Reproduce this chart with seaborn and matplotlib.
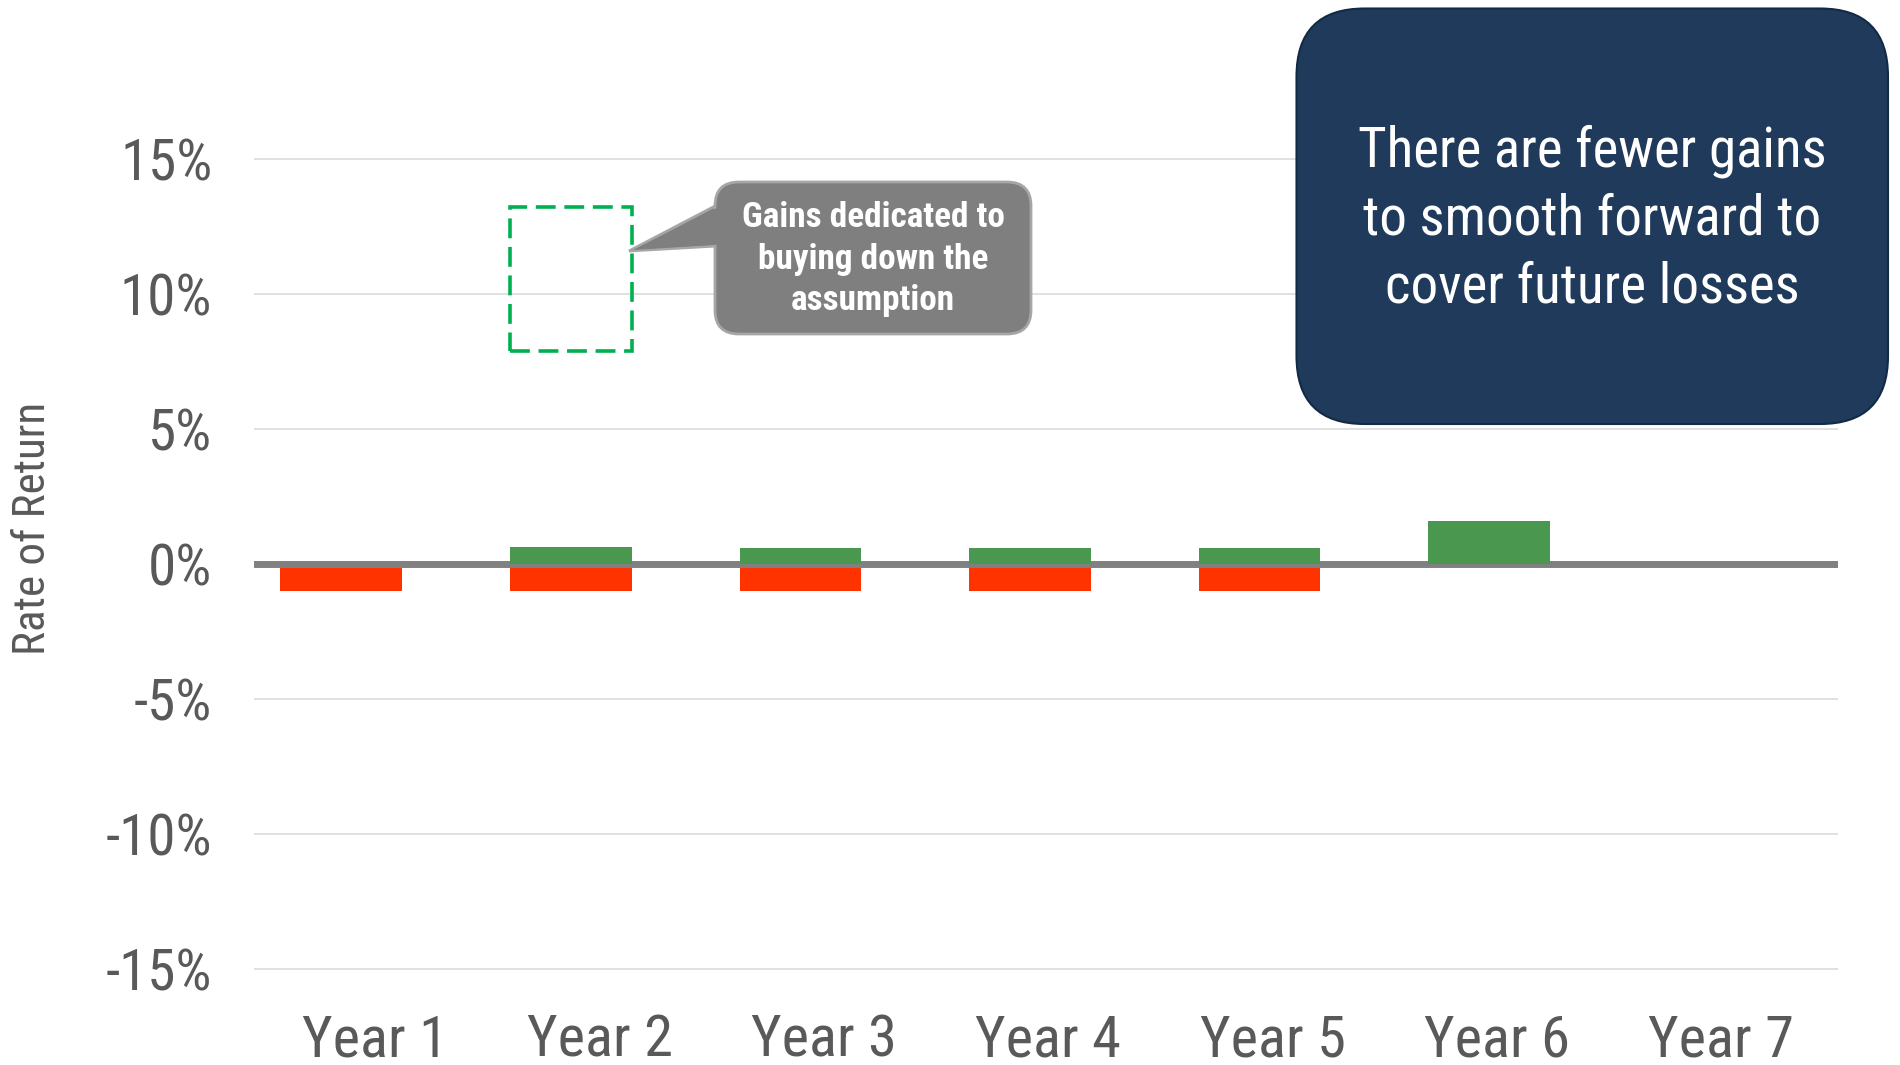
import os
import matplotlib
matplotlib.use("Agg")
import matplotlib.pyplot as plt
from matplotlib import font_manager
from matplotlib.font_manager import FontProperties
from matplotlib.patches import FancyBboxPatch, Polygon
from matplotlib.ticker import FuncFormatter
from matplotlib.transforms import ScaledTranslation
import pandas as pd
import seaborn as sns

# ---- data (percent) ----
years = ["Year 1", "Year 2", "Year 3", "Year 4", "Year 5", "Year 6", "Year 7"]
gains = [0.0, 0.63, 0.6, 0.6, 0.6, 1.6, 0.0]
losses = [-1.0, -1.0, -1.0, -1.0, -1.0, 0.0, 0.0]
buydown_year = "Year 2"
buydown_low = 7.9
buydown_high = 13.2
y_ticks = [-15, -10, -5, 0, 5, 10, 15]

callout_text = "Gains dedicated to\nbuying down the\nassumption"
box_text = "There are fewer gains\nto smooth forward to\ncover future losses"

GREEN = "#4A9850"
RED = "#FF3300"
DASH_GREEN = "#00B050"
TEXT_GRAY = "#595959"

sns.set_theme(style="white")
plt.rcParams["font.family"] = ["Liberation Sans", "DejaVu Sans"]


def _weight(e):
    w = e.weight
    if isinstance(w, str):
        w = font_manager.weight_dict.get(w, 400)
    return int(w)


def narrow_font(bold=False):
    """Pick a condensed sans face if one is installed, else None."""
    prefer = ["liberation sans narrow", "arial narrow", "nimbus sans narrow",
              "roboto condensed", "noto sans condensed", "open sans condensed",
              "dejavu sans condensed", "dejavu sans"]
    target = 700 if bold else 400
    best = None
    for e in font_manager.fontManager.ttflist:
        name = e.name.lower()
        fn = os.path.basename(e.fname).lower()
        is_narrow = ("narrow" in name or "condensed" in name or "narrow" in fn
                     or "condensed" in fn or e.stretch in ("condensed", "semi-condensed"))
        if not is_narrow or e.style != "normal":
            continue
        if any(k in name or k in fn for k in ("mono", "serif", "cjk", "display")):
            continue
        full = name + " " + fn
        rank = next((i for i, p in enumerate(prefer) if p in full or p == name), len(prefer))
        penalty = sum(k in fn for k in ("extra", "ultra", "semi"))
        key = (rank, penalty, abs(_weight(e) - target))
        if best is None or key < best[0]:
            best = (key, e.fname)
    return best[1] if best else None


reg_path = narrow_font(False)
bold_path = narrow_font(True)


def fp(size, bold=False):
    path = bold_path if bold else reg_path
    if path:
        return FontProperties(fname=path, size=size)
    # plain face squeezed in size to keep line widths similar
    return FontProperties(family="Liberation Sans", size=size * 0.84,
                          weight="bold" if bold else "normal")


df = pd.DataFrame({"year": years, "gain": gains, "loss": losses})

fig = plt.figure(figsize=(19, 10.65), dpi=100)
ax = fig.add_axes([0.1337, 0.0771, 0.8337, 0.7866])

sns.barplot(data=df, x="year", y="loss", color=RED, saturation=1, width=0.53,
            linewidth=0, zorder=2, ax=ax)
sns.barplot(data=df, x="year", y="gain", color=GREEN, saturation=1, width=0.53,
            linewidth=0, zorder=4, ax=ax)

# dashed outline marking the gains used to buy down the assumption
ax.bar([years.index(buydown_year)], [buydown_high - buydown_low], bottom=[buydown_low],
       width=0.53, fill=False, edgecolor=DASH_GREEN, linewidth=2.6,
       linestyle=(0, (5.5, 2.4)), zorder=5)

ax.axhline(0, color="#808080", linewidth=5, zorder=3)

ax.set_xlim(-0.38, 6.52)
ax.set_ylim(-15.5, 15.5)
ax.set_yticks(y_ticks)
ax.yaxis.set_major_formatter(FuncFormatter(lambda v, _: f"{v:.0f}%"))
ax.grid(axis="y", color="#D9D9D9", linewidth=1.1, zorder=0)
ax.grid(axis="x", visible=False)
ax.set_axisbelow(True)
for s in ax.spines.values():
    s.set_visible(False)

ax.tick_params(axis="y", length=0, pad=30, labelcolor=TEXT_GRAY)
ax.tick_params(axis="x", length=0, pad=22, labelcolor=TEXT_GRAY)
for lab in ax.get_yticklabels():
    lab.set_fontproperties(fp(41))
# category labels sit slightly right of the bars, spreading a little tighter
for i, lab in enumerate(ax.get_xticklabels()):
    dx = (34 - 5.2 * i) / 100
    lab.set_fontproperties(fp(42))
    lab.set_transform(lab.get_transform() + ScaledTranslation(dx, 0, fig.dpi_scale_trans))

ax.set_xlabel("")
ax.set_ylabel("Rate of Return", color=TEXT_GRAY, va="center", fontproperties=fp(32.5))
ax.yaxis.set_label_coords(-0.1395, 0.543)

# ---- overlay for callouts, in pixel units ----
ov = fig.add_axes([0, 0, 1, 1], zorder=10)
ov.set_xlim(0, 1900)
ov.set_ylim(1065, 0)
ov.axis("off")
ov.patch.set_alpha(0)

# speech-bubble callout
ov.add_patch(Polygon([(717, 205), (629, 251), (717, 246)], closed=True,
                     fc="#7F7F7F", ec="#A6A6A6", lw=2, zorder=1))
ov.add_patch(FancyBboxPatch((715, 182), 316, 152,
                            boxstyle="round,pad=0,rounding_size=24",
                            fc="#7F7F7F", ec="#A6A6A6", lw=2, zorder=2))
ov.add_patch(Polygon([(720, 206.5), (633, 250), (720, 244.5)], closed=True,
                     fc="#7F7F7F", ec="none", zorder=3))
ov.text(873, 259, callout_text, ha="center", va="center", color="white",
        fontproperties=fp(25.4, bold=True), linespacing=1.31, zorder=4)

# navy message box
ov.add_patch(FancyBboxPatch((1296.5, 8.5), 591.5, 415.5,
                            boxstyle="round,pad=0,rounding_size=68",
                            fc="#1F3A5A", ec="#132A44", lw=1.5, zorder=2))
ov.text(1592, 219, box_text, ha="center", va="center", color="white",
        fontproperties=fp(39.6), linespacing=1.35, zorder=4)

fig.savefig("out.png", dpi=100)
